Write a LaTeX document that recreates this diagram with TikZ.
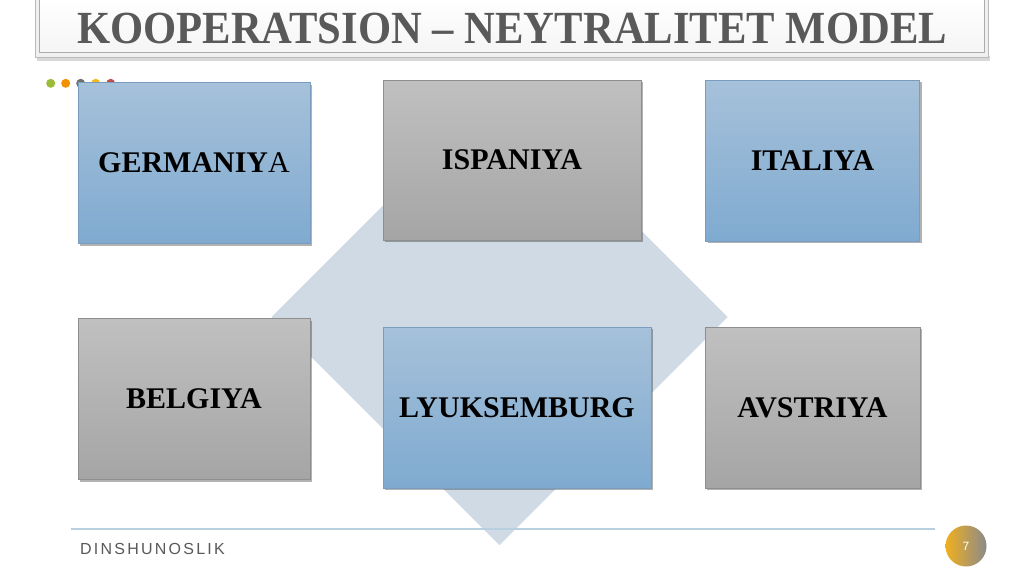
\documentclass[tikz,border=0pt]{standalone}
\usepackage{fontspec}
\setmainfont{Liberation Serif}
\newfontfamily\footfont[LetterSpace=14]{Liberation Sans}
\newfontfamily\numfont{Liberation Sans}
\usetikzlibrary{shadows}
\definecolor{bluetop}{HTML}{A6C1DA}
\definecolor{bluebot}{HTML}{7FAAD0}
\definecolor{blueline}{HTML}{7A9DBF}
\definecolor{graytop}{HTML}{C0C0C0}
\definecolor{graybot}{HTML}{A5A5A5}
\definecolor{grayline}{HTML}{8E8E8E}
\definecolor{diamondc}{HTML}{CFDAE5}
\definecolor{titlegray}{HTML}{595959}
\definecolor{footline}{HTML}{B8CFDF}
\definecolor{dotgreen}{HTML}{9BBB3B}
\definecolor{dotorange}{HTML}{F39200}
\definecolor{dotgray}{HTML}{6F6F6F}
\definecolor{dotyellow}{HTML}{F0B81C}
\definecolor{dotred}{HTML}{C0504D}
\definecolor{coingold}{HTML}{F0B020}
\definecolor{coingray}{HTML}{8A8A8A}
\tikzset{
  box/.style={rectangle, inner sep=0pt, font=\bfseries\fontsize{30}{33}\selectfont, text=black,
    drop shadow={shadow xshift=2pt, shadow yshift=-2pt, opacity=0.3, fill=black}},
  bluebox/.style={box, draw=blueline, line width=0.6pt, top color=bluetop, bottom color=bluebot},
  graybox/.style={box, draw=grayline, line width=0.6pt, top color=graytop, bottom color=graybot},
  dot/.style={circle, inner sep=0pt, minimum size=9pt}
}
\begin{document}
\begin{tikzpicture}[x=1pt,y=-1pt]
\useasboundingbox (0,0) rectangle (1024,574);
\fill[white] (0,0) rectangle (1024,574);
% title bar
\path[fill=gray!60, opacity=0.5] (37,56) rectangle (990,61);
\draw[draw=gray!55, fill=gray!12, line width=0.6pt] (35,-3) rectangle (988,57);
\draw[draw=gray!65, top color=white, bottom color=gray!8, line width=0.8pt] (39,-3) rectangle (984,52);
\node[anchor=base, text=titlegray, font=\bfseries\fontsize{46}{49}\selectfont] (title) at (512,43)
  {\scalebox{0.927}[1]{KOOPERATSION -- NEYTRALITET MODEL}};
% dots
\node[dot, fill=dotgreen] (d1) at (50.7,83.3) {};
\node[dot, fill=dotorange] (d2) at (65.7,83.3) {};
\node[dot, fill=dotgray] (d3) at (80.7,83.3) {};
\node[dot, fill=dotyellow] (d4) at (95.7,83.3) {};
\node[dot, fill=dotred] (d5) at (110.7,83.3) {};
% diamond
\fill[diamondc] (499.5,89) -- (727.5,317) -- (499.5,545) -- (271.5,317) -- cycle;
% footer
\draw[footline, line width=1.6pt] (71,529) -- (935,529);
% boxes
\node[bluebox, minimum width=232pt, minimum height=161pt] (ger) at (194,163) {GERMANIY\mdseries A};
\node[graybox, minimum width=258pt, minimum height=160pt] (isp) at (512,160) {ISPANIYA};
\node[bluebox, minimum width=214pt, minimum height=161pt] (ita) at (812.5,160.5) {ITALIYA};
\node[graybox, minimum width=232pt, minimum height=161pt] (bel) at (194,399) {BELGIYA};
\node[bluebox, minimum width=268pt, minimum height=161pt] (lyu) at (517,407.5) {LYUKSEMBURG};
\node[graybox, minimum width=215pt, minimum height=161pt] (avs) at (812.5,407.5) {AVSTRIYA};
% footer text and page number
\node[anchor=base west, text=titlegray, font=\footfont\fontsize{16}{18}\selectfont, inner sep=0pt] (foot) at (80,554) {DINSHUNOSLIK};
\shade[left color=coingold, right color=coingray] (966,546) circle (20.5);
\node[text=white, font=\numfont\fontsize{12}{14}\selectfont] (pg) at (966,546) {7};
\end{tikzpicture}
\end{document}
